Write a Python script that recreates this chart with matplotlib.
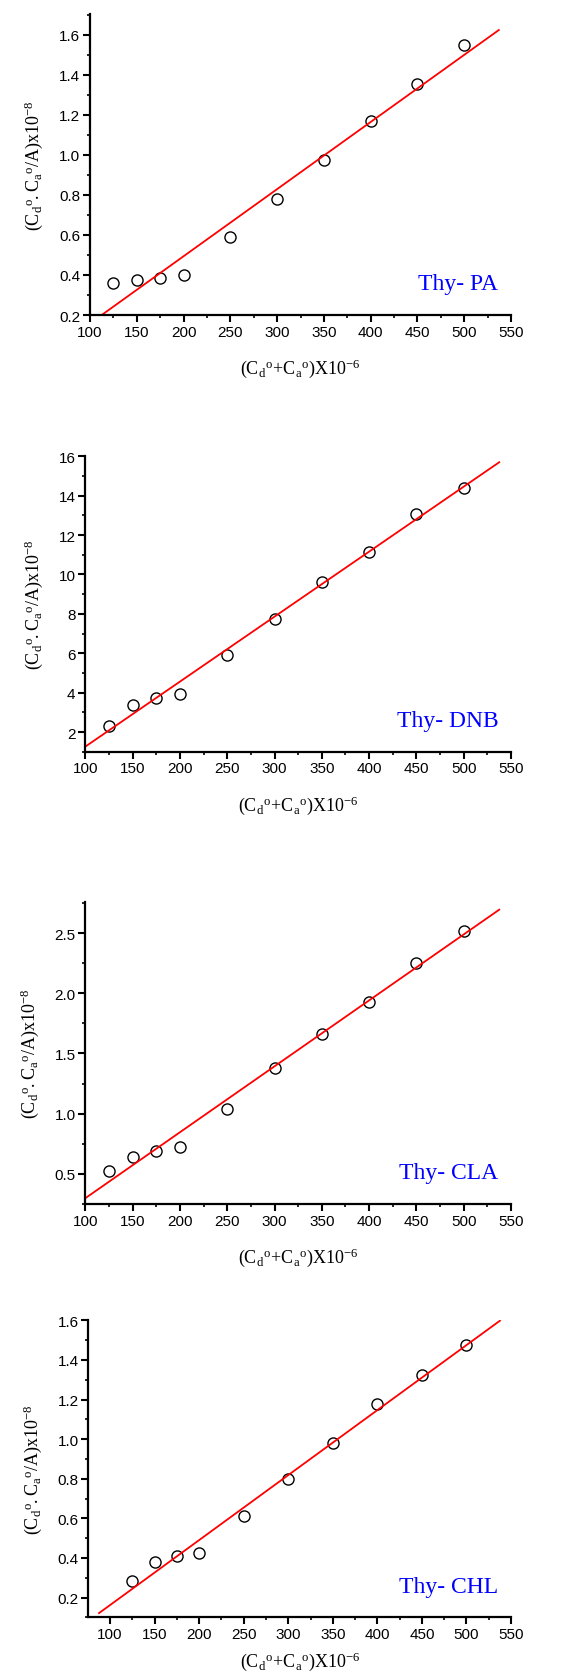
import numpy as np
import matplotlib
matplotlib.use('Agg')
import matplotlib.pyplot as plt
from matplotlib.ticker import MultipleLocator

plt.rcParams['mathtext.fontset'] = 'custom'
plt.rcParams['mathtext.rm'] = 'Liberation Serif'
plt.rcParams['mathtext.it'] = 'Liberation Serif'
plt.rcParams['mathtext.bf'] = 'Liberation Serif:bold'

# concentration sum (x axis)
conc = [125, 150, 175, 200, 250, 300, 350, 400, 450, 500]

# measured values, one list per complex
pa = [0.358, 0.373, 0.383, 0.400, 0.587, 0.777, 0.972, 1.167, 1.355, 1.547]
dnb = [2.32, 3.36, 3.75, 3.92, 5.92, 7.76, 9.61, 11.15, 13.08, 14.38]
cla = [0.525, 0.638, 0.694, 0.727, 1.042, 1.382, 1.662, 1.927, 2.254, 2.514]
chl = [0.284, 0.377, 0.411, 0.424, 0.613, 0.801, 0.982, 1.175, 1.324, 1.474]

# fitted line end points
pa_fit_x, pa_fit_y = [112.5, 537], [0.2, 1.623]
dnb_fit_x, dnb_fit_y = [100, 537.6], [1.257, 15.70]
cla_fit_x, cla_fit_y = [100, 537.6], [0.298, 2.694]
chl_fit_x, chl_fit_y = [87.6, 537.6], [0.121, 1.598]

names = ['Thy- PA', 'Thy- DNB', 'Thy- CLA', 'Thy- CHL']

W, H = 578, 1681
fig = plt.figure(figsize=(W / 100, H / 100), dpi=100)

# (left, right, top, bottom) in pixels
boxes = [(90, 511, 15, 316), (85.3, 511, 457.3, 752.7),
         (85.3, 511, 902.7, 1205), (88.3, 511, 1321.3, 1618.3)]
xlims = [(100, 550), (100, 550), (100, 550), (75.6, 550)]
ylims = [(0.2, 1.703), (1.0, 16.0), (0.25, 2.76), (0.1, 1.6)]
ymajor = [0.2, 2, 0.5, 0.2]
data = [pa, dnb, cla, chl]
fits = [(pa_fit_x, pa_fit_y), (dnb_fit_x, dnb_fit_y),
        (cla_fit_x, cla_fit_y), (chl_fit_x, chl_fit_y)]
yfmt = ['%.1f', '%d', '%.1f', '%.1f']
xpads = [13, 13, 13, 6]

ylab = r'$\mathrm{(C_d{}^{o}.C_a{}^{o}/A)x10^{-8}}$'
xlab = r'$\mathrm{(C_d{}^{o}\!+\!C_a{}^{o})X10^{-6}}$'

for i in range(4):
    l, r, t, b = boxes[i]
    ax = fig.add_axes([l / W, 1 - b / H, (r - l) / W, (b - t) / H])
    ax.plot(conc, data[i], linestyle='none', marker='o', markersize=8,
            markerfacecolor='none', markeredgecolor='black', markeredgewidth=1.0)
    ax.plot(fits[i][0], fits[i][1], color='red', linewidth=1.3)
    ax.set_xlim(*xlims[i])
    ax.set_ylim(*ylims[i])
    ax.xaxis.set_major_locator(MultipleLocator(50))
    ax.xaxis.set_minor_locator(MultipleLocator(25))
    ax.yaxis.set_major_locator(MultipleLocator(ymajor[i]))
    ax.yaxis.set_minor_locator(MultipleLocator(ymajor[i] / 2))
    ax.yaxis.set_major_formatter(plt.FormatStrFormatter(yfmt[i]))
    for s in ['top', 'right']:
        ax.spines[s].set_visible(False)
    for s in ['left', 'bottom']:
        ax.spines[s].set_linewidth(1.6)
    ax.tick_params(which='major', direction='out', length=5, width=1.5,
                   labelsize=11, pad=2)
    ax.tick_params(which='minor', direction='out', length=2, width=1.2)
    for lb in ax.get_xticklabels() + ax.get_yticklabels():
        lb.set_fontfamily('Liberation Sans')
    ax.set_xlabel(xlab, fontsize=13, labelpad=xpads[i])
    ax.set_ylabel(ylab, fontsize=13, labelpad=10)
    ax.text(0.97, 0.07, names[i], transform=ax.transAxes, ha='right', va='bottom',
            color='blue', fontsize=17, family='Liberation Serif')

fig.savefig('out.png', dpi=100)
